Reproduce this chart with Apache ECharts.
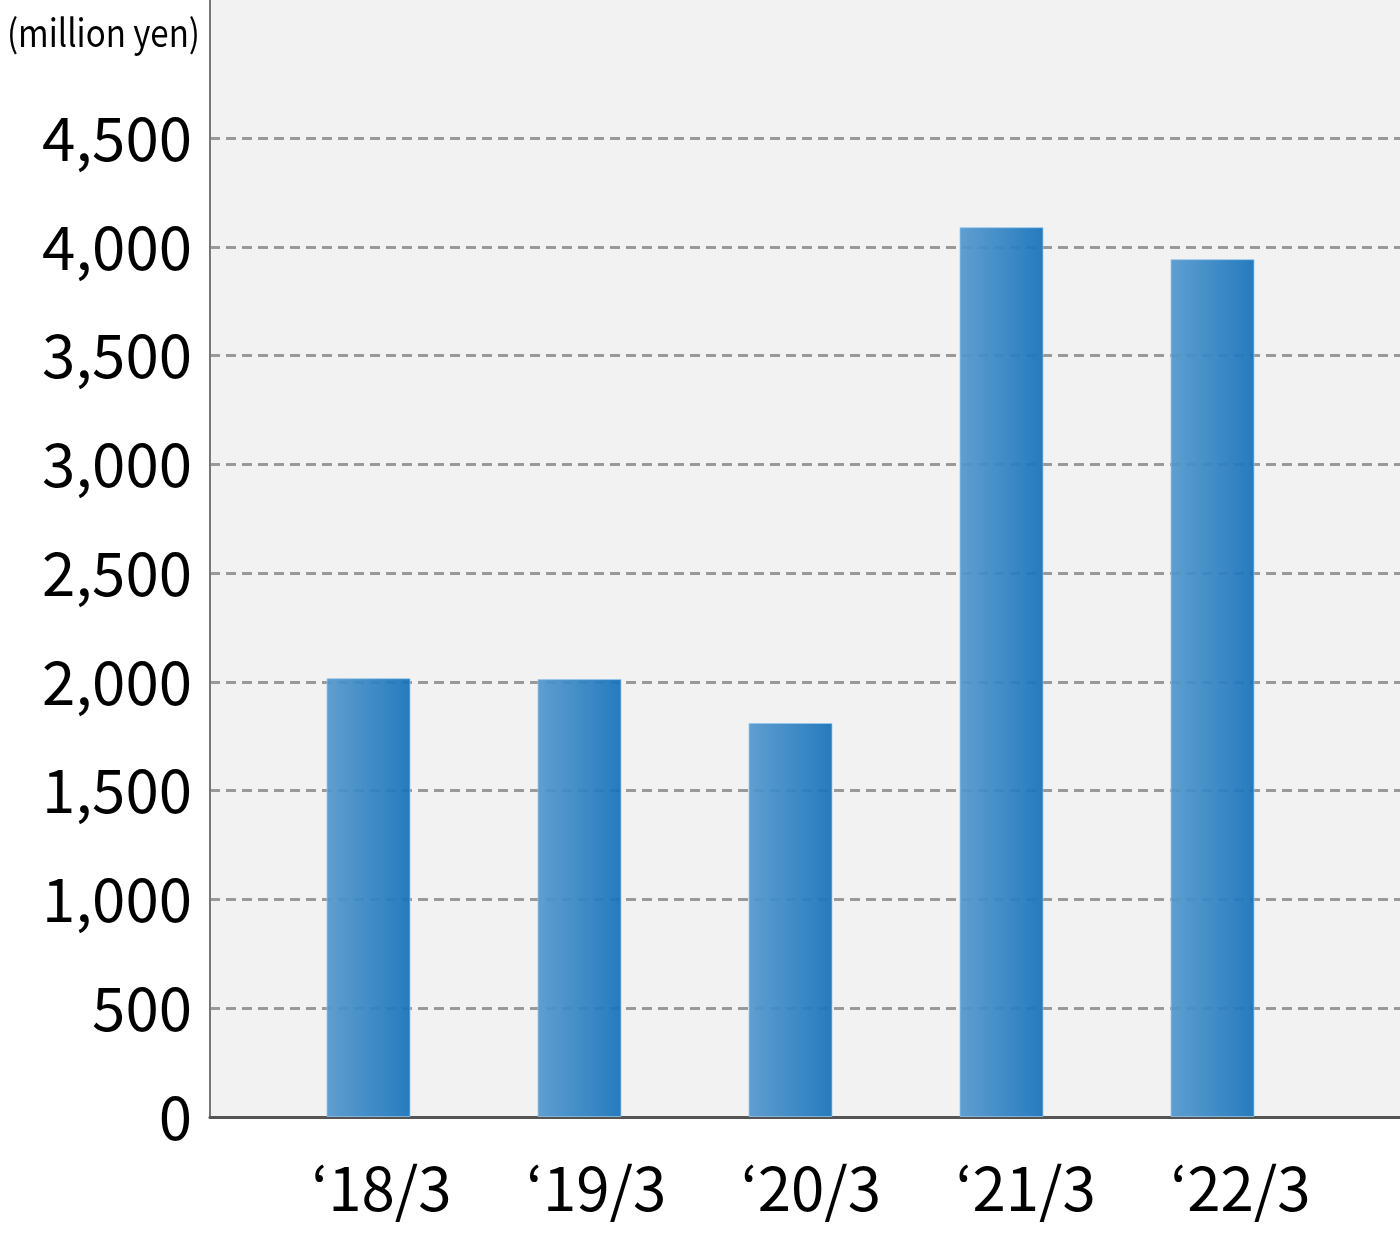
<!DOCTYPE html>
<html>
<head>
<meta charset="utf-8">
<script src="https://cdn.jsdelivr.net/npm/echarts@6/dist/echarts.min.js"></script>
<style>
  html, body { margin: 0; padding: 0; background: #fff; }
  #chart { width: 1400px; height: 1236px; }
</style>
</head>
<body>
<div id="chart"></div>
<script>
// fiscal years (March year-end)
const categories = ['\u201818/3', '\u201819/3', '\u201820/3', '\u201821/3', '\u201822/3']
// values, million yen
const values = [2017, 2013, 1811, 4090, 3943]
const yMin = 0
const yMax = 4500
const yStep = 500
const unitLabel = '(million yen)'

const FONT = '"Noto Sans CJK JP", "Noto Sans", sans-serif'

const chart = echarts.init(document.getElementById('chart'), null, { renderer: 'canvas' })

const barColor = new echarts.graphic.LinearGradient(0, 0, 1, 0, [
  { offset: 0, color: '#5598cd' },
  { offset: 1, color: '#1672ba' }
])

// labels sit a little right of their bars, drifting more to the right
const labelRich = {}
categories.forEach((c, i) => {
  labelRich['p' + i] = {
    color: '#000',
    fontFamily: FONT,
    fontSize: 60,
    padding: [0, 0, 0, 26 + 7.5 * i]
  }
})

const option = {
  animation: false,
  backgroundColor: '#fff',
  graphic: [
    // plot background extends above top tick and right of bars
    { type: 'rect', z: -10, shape: { x: 210, y: 0, width: 1190, height: 1117 }, style: { fill: '#f2f2f2' } },
    { type: 'line', z: 5, shape: { x1: 210, y1: 0, x2: 210, y2: 140 }, style: { stroke: '#777', lineWidth: 2 } },
    {
      type: 'text', z: 5, x: 200, y: 33, scaleX: 0.87,
      style: { text: unitLabel, fill: '#000', font: '38px ' + FONT, textAlign: 'right', textVerticalAlign: 'middle' }
    }
  ],
  grid: [
    { left: 210, right: 0, top: 138, bottom: 119 },
    { left: 263, right: 82, top: 138, bottom: 119 }
  ],
  xAxis: [
    {
      gridIndex: 0,
      type: 'value',
      min: 0,
      max: 1,
      axisLine: { show: true, lineStyle: { color: '#555', width: 3 } },
      axisTick: { show: false },
      axisLabel: { show: false },
      splitLine: { show: false }
    },
    {
      gridIndex: 1,
      type: 'category',
      data: categories,
      axisLine: { show: false },
      axisTick: { show: false },
      axisLabel: {
        interval: 0,
        hideOverlap: false,
        color: '#000',
        fontFamily: FONT,
        fontSize: 60,
        margin: 41,
        formatter: (v, i) => '{p' + i + '|' + v + '}',
        rich: labelRich
      }
    }
  ],
  yAxis: [
    {
      gridIndex: 0,
      type: 'value',
      min: yMin,
      max: yMax,
      interval: yStep,
      axisLine: { show: true, lineStyle: { color: '#777', width: 2 } },
      axisTick: { show: false },
      axisLabel: {
        color: '#000',
        fontFamily: FONT,
        fontSize: 60,
        margin: 18,
        formatter: v => v.toLocaleString('en-US')
      },
      splitLine: {
        lineStyle: { color: '#999', width: 3, type: [10, 6] }
      }
    },
    {
      gridIndex: 1,
      type: 'value',
      min: yMin,
      max: yMax,
      interval: yStep,
      show: false,
      splitLine: { show: false }
    }
  ],
  series: [
    {
      type: 'bar',
      xAxisIndex: 1,
      yAxisIndex: 1,
      data: values,
      barWidth: 84,
      itemStyle: {
        color: barColor,
        opacity: 0.93,
        borderColor: 'rgba(150, 200, 235, 0.8)',
        borderWidth: 1
      },
      z: 2
    }
  ]
}

chart.setOption(option)
</script>
</body>
</html>
